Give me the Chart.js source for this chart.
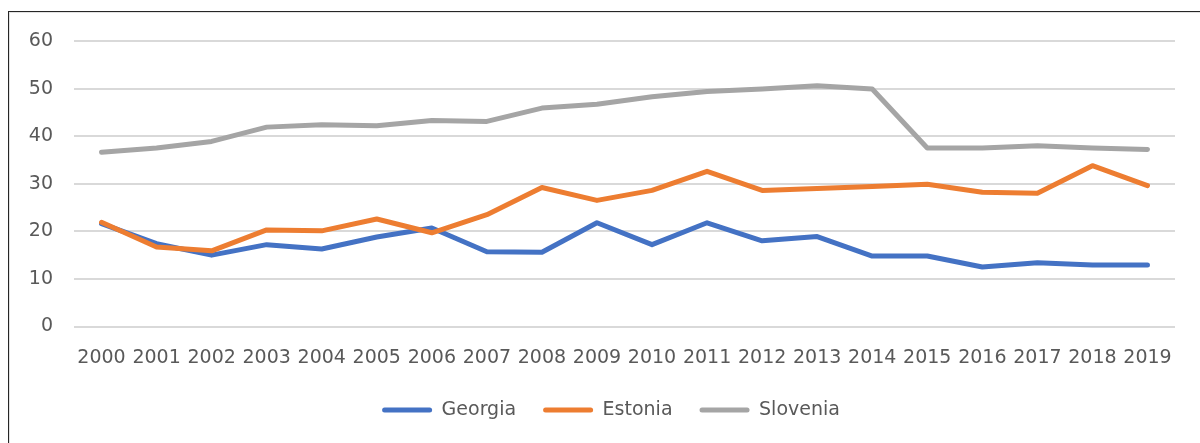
<!DOCTYPE html>
<html>
<head>
<meta charset="utf-8">
<script src="https://cdn.jsdelivr.net/npm/chart.js@4/dist/chart.umd.min.js"></script>
<style>
  html, body { margin: 0; padding: 0; background: #fff; overflow: hidden; }
  #frame {
    position: absolute; left: 8px; top: 11px; width: 1300px; height: 500px;
    border-left: 1px solid #262626; border-top: 1px solid #262626;
    box-shadow: inset 1px 1px 0 #e2e2e2;
  }
  #chartCanvas { position: absolute; left: 0; top: 0; }
</style>
</head>
<body>
<div id="frame"></div>
<canvas id="chartCanvas" width="1200" height="443"></canvas>
<script>
// data
const years = ['2000', '2001', '2002', '2003', '2004', '2005', '2006', '2007', '2008', '2009',
	'2010', '2011', '2012', '2013', '2014', '2015', '2016', '2017', '2018', '2019']
const georgia = [21.6, 17.4, 15.0, 17.2, 16.3, 18.8, 20.7, 15.7, 15.6, 21.8,
	17.2, 21.8, 18.0, 18.9, 14.8, 14.8, 12.5, 13.4, 12.9, 12.9]
const estonia = [21.9, 16.7, 15.9, 20.3, 20.1, 22.6, 19.7, 23.5, 29.2, 26.5,
	28.6, 32.6, 28.6, 29.0, 29.4, 29.9, 28.2, 28.0, 33.8, 29.6]
const slovenia = [36.6, 37.5, 38.9, 41.9, 42.4, 42.2, 43.3, 43.1, 45.9, 46.7,
	48.3, 49.4, 49.9, 50.6, 49.9, 37.5, 37.5, 38.0, 37.5, 37.2]
const yTicks = [0, 10, 20, 30, 40, 50, 60]

const TEXT = '#595959'
const FONT = 'DejaVu Sans'

function dataset(label, color, data, order) {
	return {
		label: label,
		data: data,
		borderColor: color,
		backgroundColor: color,
		borderWidth: 5,
		pointRadius: 0,
		tension: 0,
		fill: false,
		borderCapStyle: 'round',
		borderJoinStyle: 'round',
		order: order // later series drawn on top, like excel
	}
}

// the excel legend is centred on the whole frame, not on the canvas minus the axis
const legendShift = {
	id: 'legendShift',
	afterLayout(chart) {
		chart.legend.left = 47
	}
}

const config = {
	type: 'line',
	data: {
		labels: years,
		datasets: [
			dataset('Georgia', '#4472C4', georgia, 3),
			dataset('Estonia', '#ED7D31', estonia, 2),
			dataset('Slovenia', '#A5A5A5', slovenia, 1)
		]
	},
	options: {
		responsive: false,
		animation: false,
		devicePixelRatio: 1,
		layout: { padding: { left: 0, right: 25, top: 41, bottom: 13.5 } },
		plugins: {
			tooltip: { enabled: false },
			legend: {
				position: 'bottom',
				labels: {
					color: TEXT,
					font: { family: FONT, size: 19 },
					boxWidth: 50,
					boxHeight: 5,
					padding: 27,
					sort: (a, b) => a.datasetIndex - b.datasetIndex,
					generateLabels: function(chart) {
						const items = Chart.defaults.plugins.legend.labels.generateLabels(chart)
						items.forEach(it => {
							it.lineWidth = 0
							it.fillStyle = it.strokeStyle
							it.borderRadius = 2.5
						})
						return items
					},
					useBorderRadius: true,
					borderRadius: 2.5
				}
			}
		},
		scales: {
			x: {
				offset: true,
				grid: { display: false, drawTicks: false },
				border: { display: false },
				ticks: { color: TEXT, font: { family: FONT, size: 19 }, padding: 20, maxRotation: 0, autoSkip: false },
				afterFit: function(scale) { scale.height = 47 }
			},
			y: {
				min: 0,
				max: 60,
				afterBuildTicks: function(scale) { scale.ticks = yTicks.map(v => ({ value: v })) },
				grid: { color: '#D9D9D9', lineWidth: 2, drawTicks: false },
				border: { display: false },
				ticks: { color: TEXT, font: { family: FONT, size: 19 }, padding: 21 },
				afterFit: function(scale) { scale.width = 74 }
			}
		}
	},
	plugins: [legendShift]
}

window.myChart = new Chart(document.getElementById('chartCanvas'), config)
</script>
</body>
</html>
